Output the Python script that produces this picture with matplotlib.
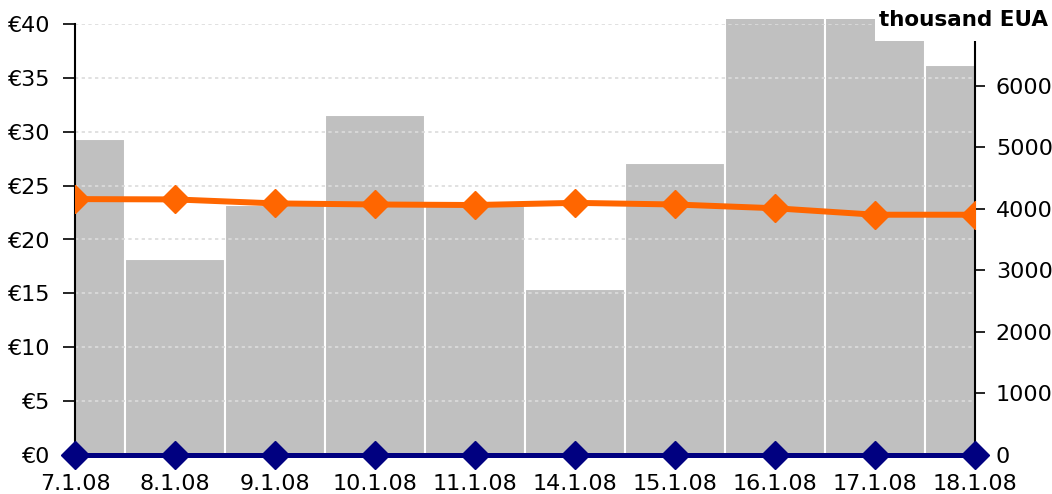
import numpy as np
import matplotlib.pyplot as plt
from matplotlib.patches import Rectangle
from matplotlib.transforms import Bbox, TransformedBbox

# data
dates = ["7.1.08", "8.1.08", "9.1.08", "10.1.08", "11.1.08",
         "14.1.08", "15.1.08", "16.1.08", "17.1.08", "18.1.08"]
volume = [5130, 3180, 4060, 5520, 4050, 2690, 4740, 7400, 7300, 6330]  # thousand EUA
price = [23.75, 23.72, 23.35, 23.25, 23.2, 23.4, 23.25, 22.9, 22.3, 22.3]  # EUR
price2 = [0, 0, 0, 0, 0, 0, 0, 0, 0, 0]

plt.rcParams['font.family'] = 'DejaVu Sans'
fig = plt.figure(figsize=(10.52, 4.94), dpi=100)
ax = fig.add_axes([75/1052, 39/494, 900/1052, 431/494])
x = np.arange(len(dates))

# bars on the base axes (right scale), lines on the twin (left scale)
bars = ax.bar(x, volume, width=1.0, color="#c0c0c0", edgecolor="white", linewidth=1.5, zorder=1)
clipbox = TransformedBbox(Bbox([[0, 0], [1, 1.012]]), ax.transAxes)
for b in bars:
    b.set_clip_box(clipbox)
ax.set_ylim(0, 7000)
ax.set_xlim(0, 9)
ax.set_xticks(x)
ax.set_xticklabels(dates)
ax.tick_params(axis='x', length=0, labelsize=16, pad=14)

ax2 = ax.twinx()
# swap sides after twinx (twinx resets the base axes to the left)
ax.yaxis.tick_right()
ax.set_yticks(range(0, 7000, 1000))
ax.tick_params(axis='y', labelsize=16, length=7, width=1.2, pad=8, direction='out')

ax2.yaxis.tick_left()
ax2.set_ylim(0, 40)
ax2.set_yticks(range(0, 45, 5))
ax2.set_yticklabels(["€%d" % v for v in range(0, 45, 5)])
ax2.tick_params(axis='y', labelsize=16, length=9, width=1.2, pad=9, direction='out')
for v in range(5, 45, 5):
    ax2.axhline(v, color="#dcdcdc", linestyle=(0, (2, 2)), linewidth=1.2, zorder=1)
ax2.plot(x, price, color="#ff6600", linewidth=4.3, marker="D", markersize=14, zorder=3)
ax2.plot(x, price2, color="#000080", linewidth=3.6, marker="D", markersize=14, zorder=3, clip_on=False)

for a in (ax, ax2):
    for s in ("top", "bottom", "left", "right"):
        a.spines[s].set_visible(False)
ax2.spines["left"].set_visible(True)
ax2.spines["right"].set_visible(True)
ax2.spines["left"].set_linewidth(1.5)
ax2.spines["right"].set_linewidth(1.5)

# white box behind the unit label
fig.patches.append(Rectangle((875/1052, 1 - 41/494), 177/1052, 41/494, transform=fig.transFigure,
                             facecolor="white", edgecolor="none", zorder=5))
fig.text(1048/1052, 1 - 20/494, "thousand EUA", ha="right", va="center",
         fontsize=15.5, fontweight="bold", zorder=6)

fig.savefig("out.png", dpi=100)
